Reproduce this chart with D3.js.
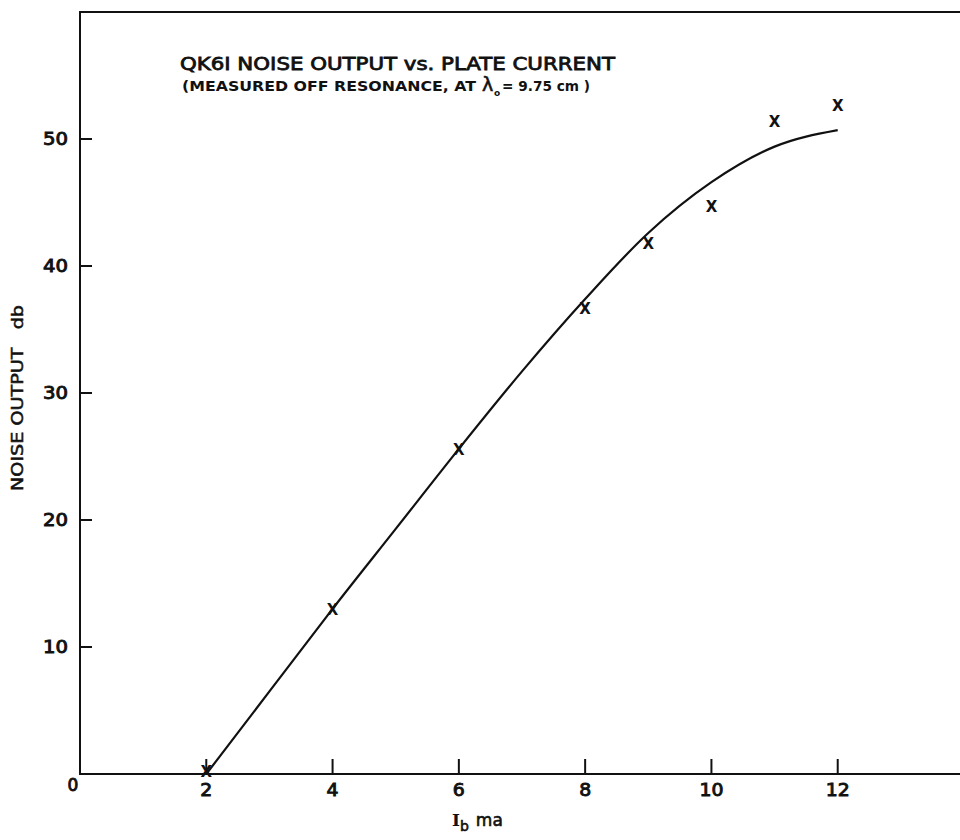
<!DOCTYPE html>
<html>
<head>
<meta charset="utf-8">
<script src="https://cdn.jsdelivr.net/npm/d3@7"></script>
<style>
  html, body { margin: 0; padding: 0; background: #fff; }
  svg { display: block; }
  text { font-family: "DejaVu Sans", sans-serif; fill: #111; }
</style>
</head>
<body>
<div id="chart"></div>
<script>
// measured points (x marks)
const measuredCurrent = [2, 4, 6, 8, 9, 10, 11, 12];
const measuredNoise = [0.2, 13, 25.6, 36.7, 41.8, 44.7, 51.4, 52.7];

// smooth fitted curve
const curveCurrent = [2, 3, 4, 5, 6, 7, 8, 9, 10, 11, 12];
const curveNoise = [0, 6.5, 13, 19.3, 25.6, 31.7, 37.4, 42.6, 46.6, 49.4, 50.7];

const xTicks = [2, 4, 6, 8, 10, 12];
const yTicks = [10, 20, 30, 40, 50];

const width = 960, height = 840;

const svg = d3.select('#chart')
    .append('svg')
    .attr('width', width)
    .attr('height', height);

const x = d3.scaleLinear().domain([0, 14]).range([80, 964]);
const y = d3.scaleLinear().domain([0, 60]).range([774, 12]);

const ink = '#111';

// hand-lettered look: regular weight with a thin outline
function lettered(sel, w) {
    return sel.style('stroke', ink).style('stroke-width', w || 0.6);
}

// frame: left, top, bottom
svg.append('path')
    .attr('d', `M${x(14)},${y(60)} H${x(0)} V${y(0)} H${x(14)}`)
    .attr('fill', 'none')
    .attr('stroke', ink)
    .attr('stroke-width', 2);

// y ticks point inward
svg.append('g').selectAll('line')
    .data(yTicks)
    .enter().append('line')
    .attr('x1', x(0)).attr('x2', x(0) + 12)
    .attr('y1', d => y(d)).attr('y2', d => y(d))
    .attr('stroke', ink).attr('stroke-width', 2);

svg.append('g').selectAll('text')
    .data(yTicks)
    .enter().append('text')
    .attr('x', x(0) - 12)
    .attr('y', d => y(d) + 6)
    .attr('text-anchor', 'end')
    .attr('textLength', d => String(d).length * 12.5)
    .attr('lengthAdjust', 'spacingAndGlyphs')
    .style('font-size', '17px')
    .call(lettered, 0.9)
    .text(d => d);

// x ticks point upward
svg.append('g').selectAll('line')
    .data(xTicks)
    .enter().append('line')
    .attr('x1', d => x(d)).attr('x2', d => x(d))
    .attr('y1', y(0)).attr('y2', y(0) - 15)
    .attr('stroke', ink).attr('stroke-width', 2);

svg.append('g').selectAll('text')
    .data(xTicks)
    .enter().append('text')
    .attr('x', d => x(d))
    .attr('y', y(0) + 22)
    .attr('text-anchor', 'middle')
    .attr('textLength', d => String(d).length * 12)
    .attr('lengthAdjust', 'spacingAndGlyphs')
    .style('font-size', '17px')
    .call(lettered, 0.9)
    .text(d => d);

// origin label
svg.append('text')
    .attr('x', x(0) - 7)
    .attr('y', y(0) + 17)
    .attr('text-anchor', 'middle')
    .style('font-size', '17px')
    .call(lettered, 0.9)
    .text('0');

// fitted curve
const line = d3.line()
    .x((d, i) => x(curveCurrent[i]))
    .y(d => y(d))
    .curve(d3.curveMonotoneX);

svg.append('path')
    .datum(curveNoise)
    .attr('fill', 'none')
    .attr('stroke', ink)
    .attr('stroke-width', 2.2)
    .attr('d', line);

// x marks
svg.append('g').selectAll('text')
    .data(measuredNoise)
    .enter().append('text')
    .attr('x', (d, i) => x(measuredCurrent[i]))
    .attr('y', d => y(d) + 6)
    .attr('text-anchor', 'middle')
    .style('font-size', '15px')
    .style('font-weight', 'bold')
    .text('X');

// title block
svg.append('text')
    .attr('x', 180)
    .attr('y', 70)
    .attr('textLength', 435)
    .attr('lengthAdjust', 'spacingAndGlyphs')
    .style('font-size', '18px')
    .call(lettered, 0.8)
    .text('QK6I NOISE OUTPUT vs. PLATE CURRENT');

// subtitle: λ with a small "o" subscript, kept in separate pieces
svg.append('text')
    .attr('x', 182)
    .attr('y', 91)
    .attr('textLength', 294)
    .attr('lengthAdjust', 'spacingAndGlyphs')
    .style('font-size', '14px')
    .style('font-weight', 'bold')
    .text('(MEASURED OFF RESONANCE, AT');

svg.append('text')
    .attr('x', 482)
    .attr('y', 91)
    .style('font-size', '19px')
    .call(lettered, 0.6)
    .text('λ');

svg.append('text')
    .attr('x', 494)
    .attr('y', 96)
    .style('font-size', '9px')
    .style('font-weight', 'bold')
    .text('o');

svg.append('text')
    .attr('x', 502)
    .attr('y', 91)
    .attr('textLength', 88)
    .attr('lengthAdjust', 'spacingAndGlyphs')
    .style('font-size', '14px')
    .style('font-weight', 'bold')
    .text('= 9.75 cm )');

// axis titles
svg.append('text')
    .attr('transform', `translate(23, 398) rotate(-90)`)
    .attr('text-anchor', 'middle')
    .attr('textLength', 186)
    .attr('lengthAdjust', 'spacingAndGlyphs')
    .attr('xml:space', 'preserve')
    .style('font-size', '16px')
    .call(lettered, 0.5)
    .text('NOISE OUTPUT   db');

const xl = svg.append('text')
    .attr('x', 452)
    .attr('y', 826)
    .style('font-size', '17px');
xl.append('tspan').style('font-family', '"DejaVu Serif", serif').style('font-weight', 'bold').text('I');
xl.append('tspan').attr('dy', 5).style('font-size', '14px').call(lettered, 0.6).text('b');
xl.append('tspan').attr('dy', -5).attr('dx', 7).call(lettered, 0.6).text('ma');
</script>
</body>
</html>
